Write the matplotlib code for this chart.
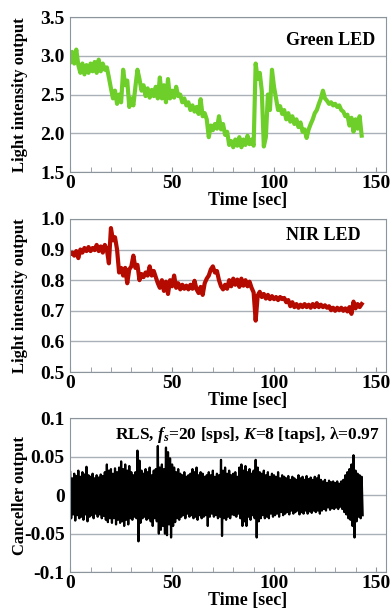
import matplotlib
matplotlib.use("Agg")
import matplotlib.pyplot as plt
import numpy as np
from matplotlib.ticker import MultipleLocator

plt.rcParams['font.family'] = 'serif'
plt.rcParams['font.serif'] = ['Liberation Serif', 'Times New Roman', 'DejaVu Serif']
plt.rcParams['font.weight'] = 'bold'
plt.rcParams['mathtext.fontset'] = 'custom'
plt.rcParams['mathtext.rm'] = 'Liberation Serif:bold'
plt.rcParams['mathtext.it'] = 'Liberation Serif:italic:bold'

# one value per second
green = [2.92, 3.05, 2.90, 3.08, 2.88, 2.78, 2.90, 2.76, 2.88, 2.78,
         2.90, 2.80, 2.92, 2.78, 2.95, 2.80, 2.90, 2.82, 2.85, 2.72,
         2.58, 2.45, 2.55, 2.38, 2.50, 2.40, 2.82, 2.62, 2.68, 2.34,
         2.45, 2.36, 2.60, 2.82, 2.70, 2.55, 2.62, 2.48, 2.58, 2.46,
         2.56, 2.48, 2.60, 2.45, 2.72, 2.45, 2.62, 2.40, 2.70, 2.45,
         2.55, 2.46, 2.60, 2.48, 2.50, 2.40, 2.45, 2.36, 2.40, 2.30,
         2.36, 2.28, 2.34, 2.25, 2.44, 2.22, 2.26, 2.18, 1.95, 2.10,
         2.04, 2.12, 2.06, 2.22, 2.05, 2.12, 1.98, 2.02, 1.85, 1.90,
         1.82, 1.92, 1.84, 1.95, 1.82, 1.92, 1.85, 1.97, 1.86, 1.92,
         1.84, 2.90, 2.70, 2.78, 2.55, 1.83, 1.95, 2.50, 2.30, 2.82,
         2.60, 2.45, 2.30, 2.35, 2.25, 2.30, 2.18, 2.26, 2.15, 2.22,
         2.12, 2.18, 2.08, 2.14, 2.02, 2.05, 1.94, 2.05, 2.12, 2.18,
         2.26, 2.30, 2.38, 2.45, 2.55, 2.45, 2.42, 2.38, 2.40, 2.36,
         2.38, 2.34, 2.36, 2.30, 2.28, 2.22, 2.24, 2.10, 2.20, 2.02,
         2.18, 2.06, 2.22, 1.97]

nir = [0.885, 0.890, 0.880, 0.895, 0.872, 0.900, 0.890, 0.905, 0.895, 0.908,
       0.895, 0.905, 0.898, 0.915, 0.895, 0.910, 0.890, 0.915, 0.900, 0.855,
       0.970, 0.930, 0.940, 0.900, 0.825, 0.840, 0.815, 0.840, 0.790, 0.835,
       0.845, 0.880, 0.840, 0.850, 0.800, 0.820, 0.810, 0.825, 0.815, 0.845,
       0.815, 0.830, 0.810, 0.790, 0.775, 0.800, 0.765, 0.795, 0.755, 0.800,
       0.780, 0.815, 0.775, 0.790, 0.770, 0.785, 0.772, 0.782, 0.770, 0.785,
       0.772, 0.798, 0.770, 0.758, 0.778, 0.752, 0.790, 0.805, 0.815, 0.835,
       0.845, 0.825, 0.830, 0.800, 0.780, 0.770, 0.785, 0.772, 0.800, 0.780,
       0.805, 0.785, 0.802, 0.778, 0.805, 0.782, 0.800, 0.780, 0.795, 0.775,
       0.760, 0.668, 0.750, 0.762, 0.745, 0.755, 0.740, 0.752, 0.738, 0.748,
       0.738, 0.745, 0.735, 0.745, 0.738, 0.742, 0.728, 0.735, 0.715, 0.728,
       0.712, 0.722, 0.710, 0.720, 0.712, 0.722, 0.712, 0.720, 0.710, 0.722,
       0.712, 0.725, 0.712, 0.720, 0.712, 0.718, 0.710, 0.715, 0.702, 0.710,
       0.700, 0.710, 0.702, 0.710, 0.700, 0.708, 0.698, 0.712, 0.690, 0.730,
       0.708, 0.722, 0.712, 0.722]

# canceller output: upper and lower swing in each second
canc_pos = [0.030, 0.022, 0.028, 0.025, 0.032, 0.024, 0.030, 0.027, 0.037, 0.026,
            0.024, 0.028, 0.022, 0.026, 0.023, 0.027, 0.025, 0.030, 0.040, 0.032,
            0.034, 0.028, 0.035, 0.030, 0.036, 0.044, 0.034, 0.040, 0.032, 0.038,
            0.030, 0.026, 0.030, 0.058, 0.045, 0.032, 0.028, 0.034, 0.030, 0.036,
            0.026, 0.032, 0.034, 0.064, 0.036, 0.040, 0.034, 0.062, 0.056, 0.048,
            0.040, 0.036, 0.030, 0.034, 0.028, 0.026, 0.030, 0.024, 0.026, 0.028,
            0.034, 0.030, 0.036, 0.026, 0.030, 0.028, 0.024, 0.026, 0.030, 0.026,
            0.032, 0.024, 0.028, 0.026, 0.046, 0.032, 0.036, 0.028, 0.032, 0.026,
            0.028, 0.030, 0.024, 0.036, 0.040, 0.032, 0.038, 0.030, 0.034, 0.028,
            0.032, 0.046, 0.036, 0.030, 0.028, 0.032, 0.026, 0.030, 0.024, 0.028,
            0.026, 0.024, 0.030, 0.022, 0.026, 0.024, 0.022, 0.025, 0.020, 0.024,
            0.022, 0.020, 0.026, 0.022, 0.024, 0.020, 0.025, 0.021, 0.023, 0.020,
            0.024, 0.022, 0.026, 0.020, 0.018, 0.020, 0.016, 0.019, 0.017, 0.018,
            0.016, 0.018, 0.015, 0.018, 0.020, 0.026, 0.030, 0.034, 0.040, 0.052,
            0.032, 0.028, 0.026, 0.024]
canc_neg = [-0.030, -0.025, -0.033, -0.026, -0.030, -0.028, -0.032, -0.025, -0.034, -0.028,
            -0.026, -0.030, -0.024, -0.028, -0.025, -0.030, -0.027, -0.032, -0.035, -0.030,
            -0.036, -0.030, -0.038, -0.032, -0.036, -0.034, -0.040, -0.032, -0.038, -0.030,
            -0.032, -0.028, -0.030, -0.060, -0.036, -0.030, -0.028, -0.032, -0.030, -0.034,
            -0.040, -0.030, -0.034, -0.050, -0.045, -0.040, -0.050, -0.052, -0.038, -0.055,
            -0.040, -0.035, -0.030, -0.032, -0.028, -0.026, -0.030, -0.024, -0.028, -0.026,
            -0.030, -0.028, -0.032, -0.026, -0.030, -0.028, -0.026, -0.040, -0.028, -0.024,
            -0.028, -0.026, -0.030, -0.028, -0.053, -0.030, -0.032, -0.028, -0.030, -0.025,
            -0.026, -0.028, -0.024, -0.030, -0.040, -0.034, -0.040, -0.028, -0.032, -0.026,
            -0.030, -0.055, -0.034, -0.030, -0.026, -0.030, -0.028, -0.030, -0.024, -0.028,
            -0.026, -0.024, -0.028, -0.022, -0.026, -0.024, -0.022, -0.025, -0.020, -0.024,
            -0.022, -0.020, -0.025, -0.022, -0.024, -0.020, -0.024, -0.021, -0.023, -0.020,
            -0.022, -0.020, -0.024, -0.020, -0.018, -0.020, -0.016, -0.019, -0.017, -0.018,
            -0.016, -0.018, -0.015, -0.018, -0.022, -0.025, -0.030, -0.032, -0.040, -0.055,
            -0.034, -0.028, -0.030, -0.026]

x_ticks = [0, 50, 100, 150]
green_ticks = [1.5, 2.0, 2.5, 3.0, 3.5]
green_labels = ['1.5', '2.0', '2.5', '3.0', '3.5']
nir_ticks = [0.5, 0.6, 0.7, 0.8, 0.9, 1.0]
nir_labels = ['0.5', '0.6', '0.7', '0.8', '0.9', '1.0']
canc_ticks = [-0.1, -0.05, 0, 0.05, 0.1]
canc_labels = ['-0.1', '-0.05', '0', '0.05', '0.1']

t = np.arange(len(green))
t_c = np.ravel(np.column_stack([np.arange(len(canc_pos)), np.arange(len(canc_pos)) + 0.5]))
canc = np.ravel(np.column_stack([canc_pos, canc_neg]))

fig = plt.figure(figsize=(3.92, 6.08), dpi=100)
ax1 = fig.add_axes([0.179, 0.717, 0.806, 0.255])
ax2 = fig.add_axes([0.179, 0.388, 0.806, 0.252])
ax3 = fig.add_axes([0.179, 0.059, 0.806, 0.253])


def style(ax, ticks, labels, ylabel):
    ax.set_xlim(0, 155)
    ax.set_ylim(ticks[0], ticks[-1])
    ax.set_xticks(x_ticks)
    ax.set_xticklabels([str(v) for v in x_ticks])
    ax.xaxis.set_minor_locator(MultipleLocator(10))
    ax.set_yticks(ticks)
    ax.set_yticklabels(labels)
    ax.tick_params(axis='x', which='both', direction='in', length=3.5,
                   color='#8c949c', labelsize=14, pad=2)
    ax.tick_params(axis='y', length=0, labelsize=14, pad=4)
    ax.grid(axis='y', color='#a9b0b8', lw=1)
    ax.set_axisbelow(True)
    for s in ax.spines.values():
        s.set_color('#8c949c')
    ax.set_xlabel('Time [sec]', fontsize=13, fontweight='bold', labelpad=0)
    ax.xaxis.set_label_coords(0.563, -0.13)
    ax.set_ylabel(ylabel, fontsize=12, fontweight='bold')
    ax.yaxis.set_label_coords(-0.135, 0.5)


ax1.plot(t, green, color='#6ecf2a', lw=3.0)
style(ax1, green_ticks, green_labels, 'Light intensity output')
ax1.text(0.965, 0.85, 'Green LED', transform=ax1.transAxes, ha='right', va='center',
         fontsize=13, fontweight='bold')

ax2.plot(t, nir, color='#b40a00', lw=3.0)
style(ax2, nir_ticks, nir_labels, 'Light intensity output')
ax2.text(0.918, 0.89, 'NIR LED', transform=ax2.transAxes, ha='right', va='center',
         fontsize=13, fontweight='bold')

ax3.plot(t_c, canc, color='black', lw=1.6)
style(ax3, canc_ticks, canc_labels, 'Canceller output')
ax3.text(0.98, 0.955, 'RLS, $f_s$=20 [sps], $K$=8 [taps], \u03bb=0.97',
         transform=ax3.transAxes, ha='right', va='top', fontsize=12.5, fontweight='bold')

fig.savefig('out.png', dpi=100)
